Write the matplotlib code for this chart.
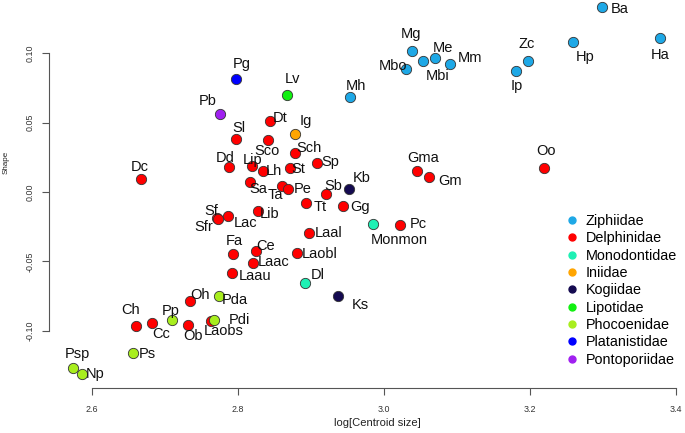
import matplotlib
matplotlib.use("Agg")
import matplotlib.pyplot as plt
from matplotlib.lines import Line2D

plt.rcParams["font.family"] = ["Liberation Sans", "DejaVu Sans"]

# families in legend order, with their colours
families = ["Ziphiidae", "Delphinidae", "Monodontidae", "Iniidae", "Kogiidae",
            "Lipotidae", "Phocoenidae", "Platanistidae", "Pontoporiidae"]
family_colors = ["#1EA8E6", "#FF0000", "#1EF0B4", "#FFA500", "#140A50",
                 "#11F011", "#A8EE1E", "#0000FF", "#A020F0"]

# species abbreviation, log centroid size, shape score, family
species = ["Ba", "Ha", "Hp", "Zc", "Ip", "Mg", "Me", "Mbi", "Mbo", "Mm", "Mh",
           "Dt", "Sl", "Sco", "Sch", "Sp", "Dd", "Lip", "Lh", "St", "Dc", "Sa",
           "Ta", "Pe", "Sb", "Tt", "Gg", "Lib", "Sf", "Sfr", "Lac", "Laal", "Fa",
           "Ce", "Laac", "Laobl", "Laau", "Oh", "Ch", "Cc", "Ob", "Laobs", "Pc",
           "Gma", "Gm", "Oo",
           "Monmon", "Dl", "Ig", "Kb", "Ks", "Lv",
           "Pda", "Pp", "Pdi", "Ps", "Psp", "Np", "Pg", "Pb"]
log_cs = [3.299, 3.378, 3.259, 3.197, 3.181, 3.038, 3.070, 3.054, 3.031, 3.091, 2.954,
          2.844, 2.798, 2.842, 2.879, 2.909, 2.788, 2.820, 2.834, 2.871, 2.667, 2.817,
          2.860, 2.869, 2.921, 2.894, 2.944, 2.828, 2.771, 2.773, 2.786, 2.897, 2.793,
          2.825, 2.821, 2.881, 2.792, 2.734, 2.660, 2.682, 2.732, 2.763, 3.022,
          3.045, 3.062, 3.219,
          2.985, 2.892, 2.878, 2.952, 2.937, 2.868,
          2.774, 2.710, 2.767, 2.656, 2.574, 2.586, 2.798, 2.776]
shape = [0.1335, 0.1113, 0.1082, 0.0948, 0.0875, 0.1017, 0.0969, 0.0945, 0.0887, 0.0921, 0.0683,
         0.0515, 0.0380, 0.0373, 0.0279, 0.0212, 0.0178, 0.0188, 0.0152, 0.0171, 0.0092, 0.0074,
         0.0046, 0.0024, -0.0017, -0.0077, -0.0103, -0.0139, -0.0184, -0.0198, -0.0173, -0.0298, -0.0450,
         -0.0428, -0.0512, -0.0440, -0.0584, -0.0784, -0.0964, -0.0943, -0.0957, -0.0931, -0.0236,
         0.0154, 0.0111, 0.0173,
         -0.0231, -0.0657, 0.0420, 0.0019, -0.0753, 0.0700,
         -0.0750, -0.0924, -0.0926, -0.1159, -0.1270, -0.1311, 0.0817, 0.0560]
family = (["Ziphiidae"] * 11 + ["Delphinidae"] * 35 +
          ["Monodontidae"] * 2 + ["Iniidae", "Kogiidae", "Kogiidae", "Lipotidae"] +
          ["Phocoenidae"] * 6 + ["Platanistidae", "Pontoporiidae"])

x_ticks = [2.6, 2.8, 3.0, 3.2, 3.4]
y_ticks = [0.10, 0.05, 0.00, -0.05, -0.10]

# label offsets from each point, in pixels (layout only)
label_offsets = {
    "Ba": (18, -2), "Ha": (0, -17), "Hp": (12, -15), "Zc": (-1, 17), "Ip": (1, -15),
    "Mg": (-1, 17), "Me": (8, 10), "Mbi": (14, -15), "Mbo": (-13, 3), "Mm": (20, 6),
    "Mh": (6, 11), "Dt": (10, 3), "Sl": (3, 11), "Sco": (-1, -11), "Sch": (14, 5),
    "Sp": (13, 1), "Dd": (-4, 9), "Lip": (0, 6), "Lh": (11, 0), "St": (9, -1),
    "Dc": (-1, 12), "Sa": (8, -7), "Ta": (-6, -9), "Pe": (15, 0), "Sb": (7, 8),
    "Tt": (14, -4), "Gg": (17, -1), "Lib": (11, -3), "Sf": (-5, 7), "Sfr": (-14, -8),
    "Lac": (18, -7), "Laal": (20, 0), "Fa": (2, 13), "Ce": (10, 5), "Laac": (21, 1),
    "Laobl": (23, -1), "Laau": (23, -3), "Oh": (10, 6), "Ch": (-5, 16), "Cc": (10, -11),
    "Ob": (5, -11), "Laobs": (13, -10), "Pc": (18, 1), "Gma": (7, 13), "Gm": (21, -4),
    "Oo": (2, 17), "Monmon": (26, -16), "Dl": (13, 8), "Ig": (11, 13), "Kb": (13, 11),
    "Ks": (23, -9), "Lv": (5, 16), "Pda": (16, -4), "Pp": (-1, 9), "Pdi": (26, 0),
    "Ps": (15, -1), "Psp": (5, 14), "Np": (14, 0), "Pg": (5, 15), "Pb": (-13, 13),
}

fig = plt.figure(figsize=(6.85, 4.33), dpi=100)
ax = fig.add_axes([0.0715, 0.1039, 0.9257, 0.8961])
ax.set_xlim(2.5414, 3.410)
ax.set_ylim(-0.1414, 0.1385)

color_of = dict(zip(families, family_colors))
for fam in families:
    idx = [i for i, f in enumerate(family) if f == fam]
    ax.scatter([log_cs[i] for i in idx], [shape[i] for i in idx],
               s=55, c=color_of[fam], edgecolors="#333333", linewidths=0.6,
               zorder=3, clip_on=False)

for name, xv, yv in zip(species, log_cs, shape):
    dx, dy = label_offsets[name]
    ax.annotate(name, (xv, yv), xytext=(dx, dy), textcoords="offset pixels",
                ha="center", va="center", fontsize=10.5, color="#111111",
                zorder=4, annotation_clip=False)

for s in ["top", "right"]:
    ax.spines[s].set_visible(False)
ax.spines["left"].set_bounds(min(y_ticks), max(y_ticks))
ax.spines["bottom"].set_bounds(min(x_ticks), max(x_ticks))
for s in ["left", "bottom"]:
    ax.spines[s].set_color("#555555")
    ax.spines[s].set_linewidth(0.8)

ax.set_xticks(x_ticks)
ax.set_xticklabels([f"{t:.1f}" for t in x_ticks])
ax.set_yticks(y_ticks)
ax.set_yticklabels([f"{t:.2f}" for t in y_ticks], rotation=90, va="center")
ax.tick_params(axis="both", length=5, width=0.8, color="#555555",
               labelsize=6.4, labelcolor="#333333")
ax.tick_params(axis="x", pad=7)
ax.tick_params(axis="y", pad=5)

fig.text(377 / 685, 1 - 423 / 433, "log[Centroid size]", ha="center",
         va="center", fontsize=8, color="#222222")
fig.text(6.5 / 685, 1 - 162 / 433, "Shape", ha="center", va="center",
         rotation=90, fontsize=5.8, color="#222222")

handles = [Line2D([], [], marker="o", linestyle="none", markersize=5,
                  markerfacecolor=c, markeredgecolor=c) for c in family_colors]
ax.legend(handles, families, loc="upper left",
          bbox_to_anchor=(565 / 685, 1 - 214 / 433),
          bbox_transform=fig.transFigure, frameon=False, borderpad=0,
          handlelength=1.0, handletextpad=0.43, labelspacing=0.23,
          fontsize=10.4, borderaxespad=0)

fig.savefig("out.png", dpi=100)
